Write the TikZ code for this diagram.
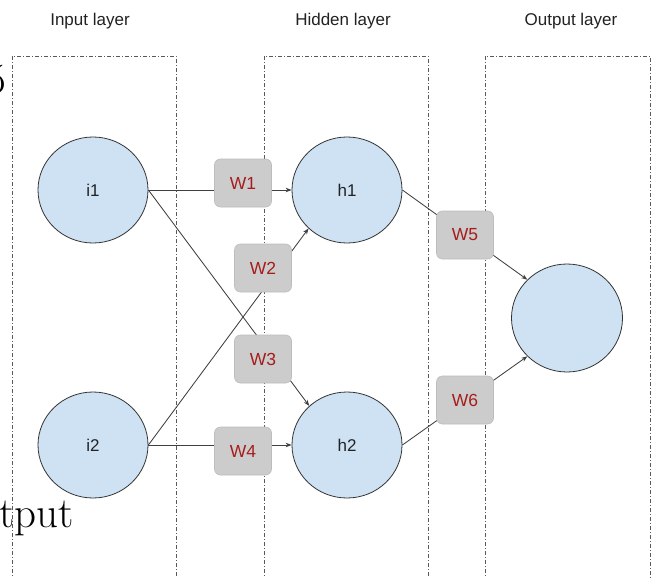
\documentclass[tikz,border=0pt]{standalone}
\usepackage{fontspec}
\setsansfont{Liberation Sans}
\usetikzlibrary{arrows.meta,shapes.geometric}
\definecolor{nodefill}{HTML}{CFE2F3}
\definecolor{wfill}{HTML}{CCCCCC}
\definecolor{wedge}{HTML}{BDBDBD}
\definecolor{wtext}{HTML}{A61C1C}
\definecolor{txt}{HTML}{222222}
\begin{document}
\begin{tikzpicture}[x=1pt,y=-1pt,
  neuron/.style={ellipse, draw=black!80, line width=0.8pt, fill=nodefill,
    minimum width=110pt, minimum height=106pt, inner sep=0pt, text=txt,
    font=\sffamily\fontsize{17}{20}\selectfont},
  weight/.style={rectangle, rounded corners=6pt, draw=wedge, line width=0.6pt, fill=wfill,
    minimum width=57pt, minimum height=48pt, inner sep=0pt, text=wtext,
    font=\sffamily\fontsize{17.5}{20}\selectfont},
  title/.style={text=txt, font=\sffamily\fontsize{17}{20}\selectfont},
  conn/.style={draw=black!75, line width=0.85pt},
  arr/.style={conn, -{Stealth[length=6pt,width=4.5pt]}},
  layerbox/.style={draw=black!65, line width=0.8pt, dash pattern=on 4pt off 2pt on 1pt off 2pt},
  bigserif/.style={font=\fontsize{43}{46}\selectfont, text=black, inner sep=0pt}
]
\useasboundingbox (0,0) rectangle (653,578);
\clip (0,0) rectangle (653,578);
\fill[white] (0,0) rectangle (653,578);

% stray slide text (cut off at the left edge, as in the reference)
\node[bigserif, anchor=base east] (five) at (6,93) {5};
\node[bigserif, anchor=base west] (tput) at (-1,527) {tput};

% layer boxes
\draw[layerbox] (12,600) -- (12,56) -- (176,56) -- (176,600);
\draw[layerbox] (264,600) -- (264,56) -- (428,56) -- (428,600);
\draw[layerbox] (485,600) -- (485,56) -- (650,56) -- (650,600);

% titles
\node[title] (tin) at (90,21) {Input layer};
\node[title] (thid) at (343,21) {Hidden layer};
\node[title] (tout) at (571,21) {Output layer};

% neurons
\node[neuron] (i1) at (93,190) {i1};
\node[neuron] (i2) at (93,445) {i2};
\node[neuron] (h1) at (347,190) {h1};
\node[neuron] (h2) at (347,445) {h2};
\node[neuron, minimum height=108pt, minimum width=111pt] (o) at (567,318) {};

% connections
\draw[arr] (i1.east) -- (h1.west);
\draw[arr] (i1.east) -- (h2.134);
\draw[arr] (i2.east) -- (h1.225);
\draw[arr] (i2.east) -- (h2.west);
\draw[arr] (h1.east) -- (o.136);
\draw[arr] (h2.east) -- (o.224);

% weights
\node[weight] (w1) at (243,183) {W1};
\node[weight] (w2) at (263,268) {W2};
\node[weight] (w3) at (263,359) {W3};
\node[weight] (w4) at (243,451) {W4};
\node[weight] (w5) at (465,235) {W5};
\node[weight] (w6) at (465,400) {W6};
\end{tikzpicture}
\end{document}
